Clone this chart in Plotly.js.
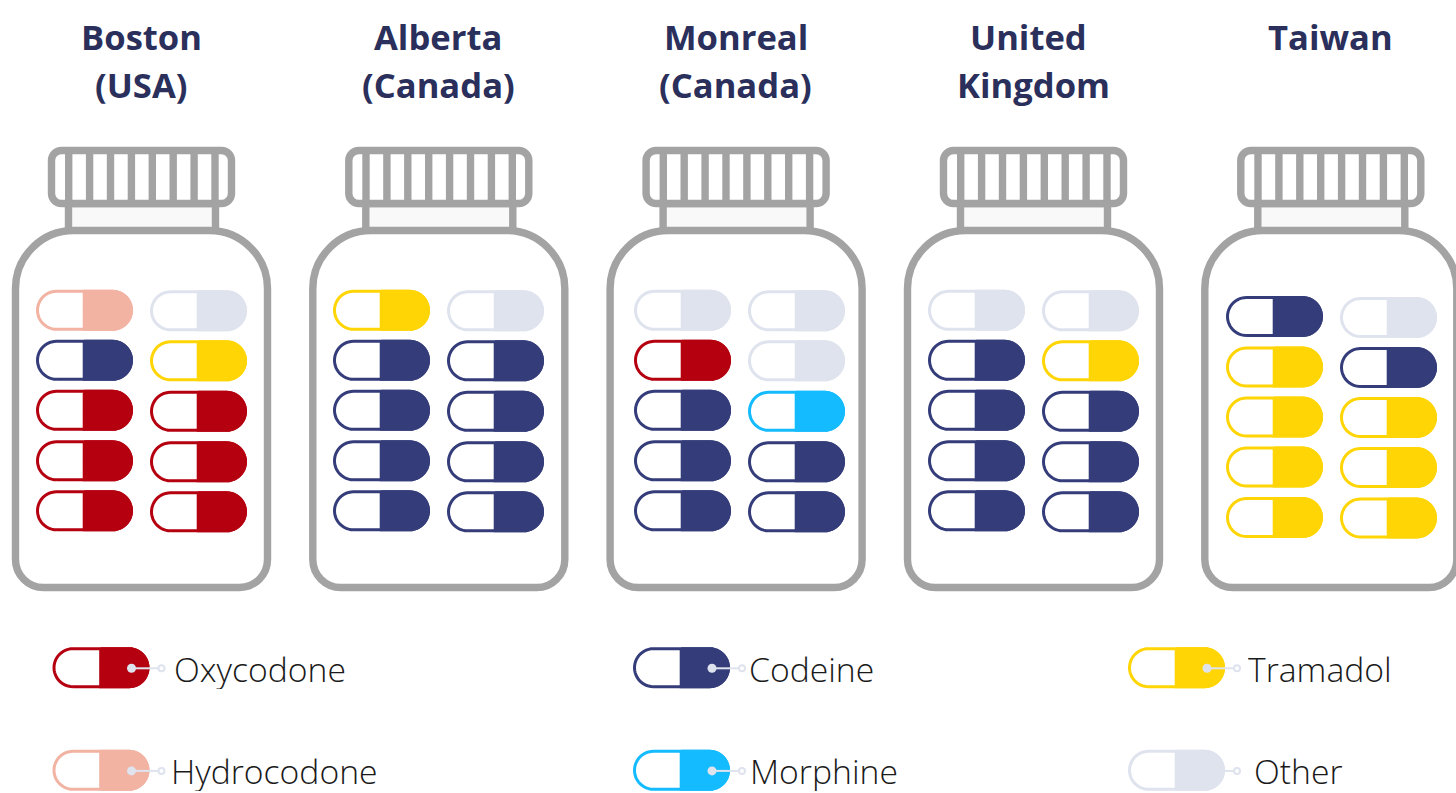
<!DOCTYPE html>
<html><head><meta charset="utf-8">
<script src="https://cdn.plot.ly/plotly-3.0.1.min.js"></script>
<style>html,body{margin:0;padding:0;background:#fff;overflow:hidden}#c{width:1456px;height:793px}</style>
</head><body><div id="c"></div>
<script>
// ---- data ----
const drugs = ['Oxycodone','Hydrocodone','Codeine','Morphine','Tramadol','Other'];
const drugColors = ['#B50010','#F2B3A3','#343D7A','#14BBFF','#FFD505','#DFE3EE'];
const O='Oxycodone',H='Hydrocodone',C='Codeine',M='Morphine',T='Tramadol',X='Other';
const bostonLeft  = [H,C,O,O,O];  const bostonRight  = [X,T,O,O,O];
const albertaLeft = [T,C,C,C,C];  const albertaRight = [X,C,C,C,C];
const monrealLeft = [X,O,C,C,C];  const monrealRight = [X,X,M,C,C];
const ukLeft      = [X,C,C,C,C];  const ukRight      = [X,T,C,C,C];
const taiwanLeft  = [C,T,T,T,T];  const taiwanRight  = [X,C,T,T,T];
const bottleColumns = [[bostonLeft,bostonRight],[albertaLeft,albertaRight],[monrealLeft,monrealRight],[ukLeft,ukRight],[taiwanLeft,taiwanRight]];
const titleLines = [['Boston','(USA)'],['Alberta','(Canada)'],['Monreal','(Canada)'],['United','Kingdom'],['Taiwan']];
const titleCenters = [[141,141],[438,438],[735.5,735.5],[1028,1033],[1330]];
const legendLabels = [[O,175],[H,172],[C,750],[M,751],[T,1249],[X,1255]];
const legendTextY = [669,770.5];

// ---- layout constants ----
const W=1456,Hh=793, GRAY='#A3A3A3', SW=7.4;
const bottleDx=[0,297.3,594.6,892,1189.3];
const capsuleDx=[0,297,598,892,1190];
const capW=97,capH=41,capLW=3;
const rowsStd=[[310.3,360.3,410.3,460.8,510.8],[310.8,360.8,411.3,461.8,511.8]];
const rowsTaiwan=[[316.5,367,417,467,517.5],[317.5,367.5,417.5,467.5,518]];
const colX=[36,150];
const legendX=[52.5,633,1128], legendY=[667.7,770.3];

function arc(cx,cy,r,a0,a1,n){const o=[];for(let i=0;i<=n;i++){const a=(a0+(a1-a0)*i/n)*Math.PI/180;o.push([cx+r*Math.cos(a),cy+r*Math.sin(a)]);}return o;}
function capsuleFull(x,yc){const r=capH/2-capLW/2,l=x+capLW/2+r,e=x+capW-capLW/2-r;
  return [...arc(l,yc,r,90,270,24),...arc(e,yc,r,-90,90,24)];}
function capsuleRight(x,yc){const r=capH/2-capLW/2,e=x+capW-capLW/2-r,s=x+capW/2-1.8+capLW/2;
  return [[s,yc-r],...arc(e,yc,r,-90,90,24),[s,yc+r]];}

const acc={};drugs.forEach(d=>acc[d]={fx:[],fy:[],rx:[],ry:[]});
function addCapsule(d,x,yc){const a=acc[d];
  capsuleFull(x,yc).concat([capsuleFull(x,yc)[0]]).forEach(p=>{a.fx.push(p[0]);a.fy.push(p[1]);});a.fx.push(null);a.fy.push(null);
  const q=capsuleRight(x,yc);q.concat([q[0]]).forEach(p=>{a.rx.push(p[0]);a.ry.push(p[1]);});a.rx.push(null);a.ry.push(null);}
bottleColumns.forEach((cols,b)=>{const rows=b===4?rowsTaiwan:rowsStd;
  cols.forEach((col,c)=>col.forEach((d,r)=>addCapsule(d,colX[c]+capsuleDx[b],rows[c][r])));});
legendLabels.forEach((l,i)=>addCapsule(l[0],legendX[Math.floor(i/2)],legendY[i%2]));

const traces=[];
drugs.forEach((d,i)=>{const a=acc[d],col=drugColors[i];
  traces.push({type:'scatter',mode:'lines',name:d,x:a.fx,y:a.fy,fill:'toself',fillcolor:'#fff',line:{color:col,width:capLW,simplify:false},hoverinfo:'skip',showlegend:false});
  traces.push({type:'scatter',mode:'lines',name:d,x:a.rx,y:a.ry,fill:'toself',fillcolor:col,line:{color:col,width:capLW,simplify:false},hoverinfo:'skip',showlegend:false});
});
// legend pointers
const lx=[],ly=[],dx=[],dy=[],rx=[],ry=[];
legendLabels.forEach((l,i)=>{const x=legendX[Math.floor(i/2)],y=legendY[i%2]+0.6;
  lx.push(x+79,x+109,null);ly.push(y,y,null);dx.push(x+79);dy.push(y);rx.push(x+109);ry.push(y);});
traces.push({type:'scatter',mode:'lines',x:lx,y:ly,line:{color:'#DFE3EE',width:2},hoverinfo:'skip',showlegend:false});
traces.push({type:'scatter',mode:'markers',x:dx,y:dy,marker:{color:'#DFE3EE',size:9},hoverinfo:'skip',showlegend:false});
traces.push({type:'scatter',mode:'markers',x:rx,y:ry,marker:{color:'#fff',size:6,line:{color:'#DFE3EE',width:2}},hoverinfo:'skip',showlegend:false});

// bottle outlines
function roundRect(x0,y0,x1,y1,r){const k=r*0.45;
  return `M${x0+r},${y0}L${x1-r},${y0}C${x1-k},${y0} ${x1},${y0+k} ${x1},${y0+r}L${x1},${y1-r}C${x1},${y1-k} ${x1-k},${y1} ${x1-r},${y1}L${x0+r},${y1}C${x0+k},${y1} ${x0},${y1-k} ${x0},${y1-r}L${x0},${y0+r}C${x0},${y0+k} ${x0+k},${y0} ${x0+r},${y0}Z`;}
function bodyPath(x0,y0,x1,y1,R,r){const K=R*0.45,k=r*0.45;
  return `M${x0+R},${y0}L${x1-R},${y0}C${x1-K},${y0} ${x1},${y0+K} ${x1},${y0+R}L${x1},${y1-r}C${x1},${y1-k} ${x1-k},${y1} ${x1-r},${y1}L${x0+r},${y1}C${x0+k},${y1} ${x0},${y1-k} ${x0},${y1-r}L${x0},${y0+R}C${x0},${y0+K} ${x0+K},${y0} ${x0+R},${y0}Z`;}
const shapes=[];
function sh(path,fill,extra){shapes.push(Object.assign({type:'path',xref:'x',yref:'y',path:path,fillcolor:fill,line:{color:GRAY,width:SW},layer:'below'},extra||{}));}
bottleDx.forEach(d=>{
  sh(roundRect(68.5+d,203.5,215.5+d,232,0.01),'#F9F9F9');
  sh(bodyPath(15.5+d,230.5,267.5+d,587.5,58,28),'#fff');
  sh(roundRect(51.5+d,150.5,231.5+d,203.5,10),'#fff');
  for(let i=0;i<8;i++){const x=68.7+20.9*i+d;
    shapes.push({type:'line',xref:'x',yref:'y',x0:x,x1:x,y0:150.5,y1:203.5,line:{color:GRAY,width:SW},layer:'below'});}
});

const annotations=[];
titleLines.forEach((ls,b)=>ls.forEach((t,i)=>annotations.push({xref:'x',yref:'y',x:titleCenters[b][i],y:36+48*i,text:t,showarrow:false,xanchor:'center',yanchor:'middle',font:{family:'"Open Sans"',size:34.6,weight:700,color:'#2A2F5B'}})));
legendLabels.forEach((l,i)=>annotations.push({xref:'x',yref:'y',x:l[1],y:legendTextY[i%2],text:l[0],showarrow:false,xanchor:'left',yanchor:'middle',xshift:-3,height:40,font:{family:'"Open Sans"',size:33.7,weight:300,color:'#1a1a1a'}}));

Plotly.newPlot('c',traces,{width:W,height:Hh,margin:{l:0,r:0,t:0,b:0},paper_bgcolor:'#fff',plot_bgcolor:'#fff',showlegend:false,
  xaxis:{range:[0,W],visible:false,fixedrange:true},yaxis:{range:[Hh,0],visible:false,fixedrange:true},shapes:shapes,annotations:annotations},{displayModeBar:false,staticPlot:true});
</script></body></html>
